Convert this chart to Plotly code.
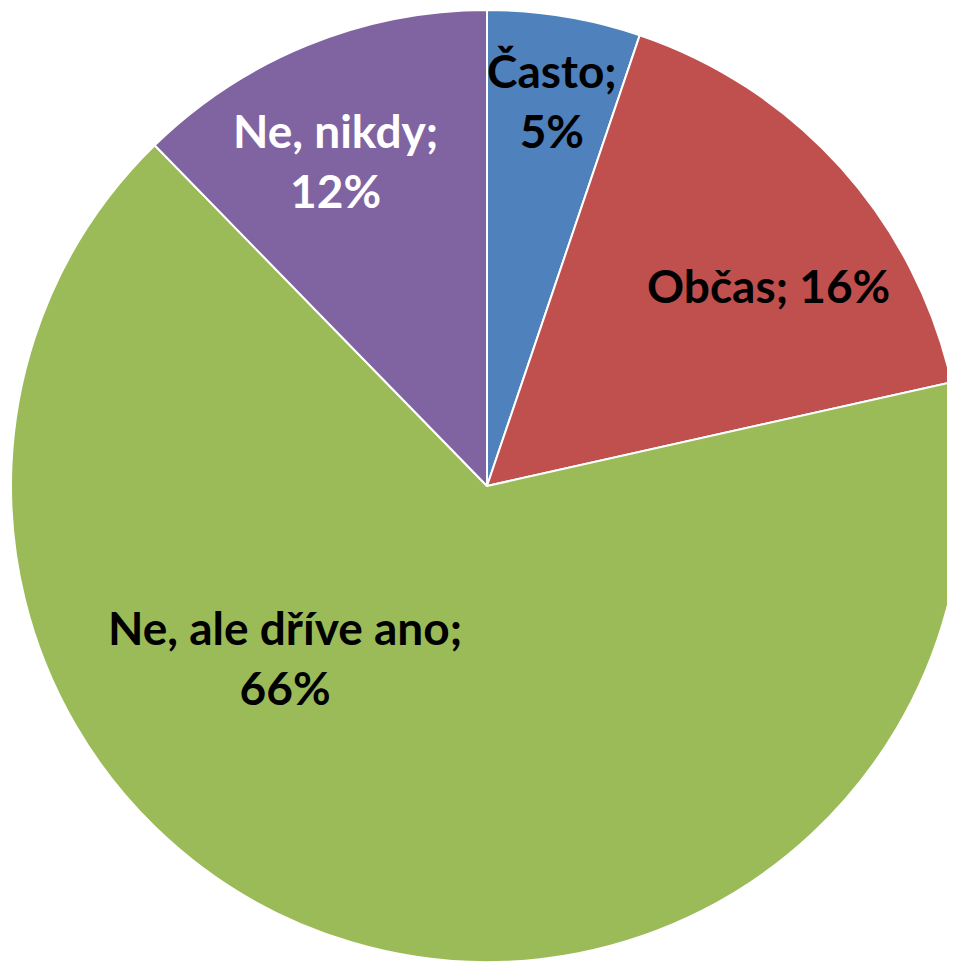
import plotly.graph_objects as go

# survey answers (share of respondents)
labels = ["Často", "Občas", "Ne, ale dříve ano", "Ne, nikdy"]
values = [5.2, 16.3, 66.2, 12.3]
colors = ["#4F81BD", "#C0504D", "#9BBB59", "#8064A2"]
text_colors = ["black", "black", "black", "white"]

W, H = 960, 960
off = 8  # body margin of the page

fig = go.Figure()
fig.add_trace(go.Pie(
    labels=labels,
    values=values,
    sort=False,
    direction="clockwise",
    rotation=0,
    textinfo="none",
    hoverinfo="label+percent",
    marker=dict(colors=colors, line=dict(color="white", width=2)),
    domain=dict(x=[3 / W, 955 / W], y=[1 - 954 / H, 1 - 2 / H]),
))

# label text built from the data, placed like the original (page pixels)
total = sum(values)
pct = [round(v / total * 100) for v in values]
label_text = [
    f"{labels[0]};<br>{pct[0]}%",
    f"{labels[1]}; {pct[1]}%",
    f"{labels[2]};<br>{pct[2]}%",
    f"{labels[3]};<br>{pct[3]}%",
]
label_pos = [(552, 100), (768, 285), (285, 657), (335, 160)]

for t, c, (px, py) in zip(label_text, text_colors, label_pos):
    fig.add_annotation(
        x=(px - off) / W, y=1 - (py - off) / H, xref="paper", yref="paper",
        xanchor="center", yanchor="middle",
        text=t, showarrow=False, align="center",
        font=dict(family="Lato", size=46, color=c, weight="bold"),
    )

fig.update_layout(
    width=W, height=H,
    margin=dict(l=0, r=0, t=0, b=0),
    showlegend=False,
    paper_bgcolor="white",
)

fig.write_html("out.html")
